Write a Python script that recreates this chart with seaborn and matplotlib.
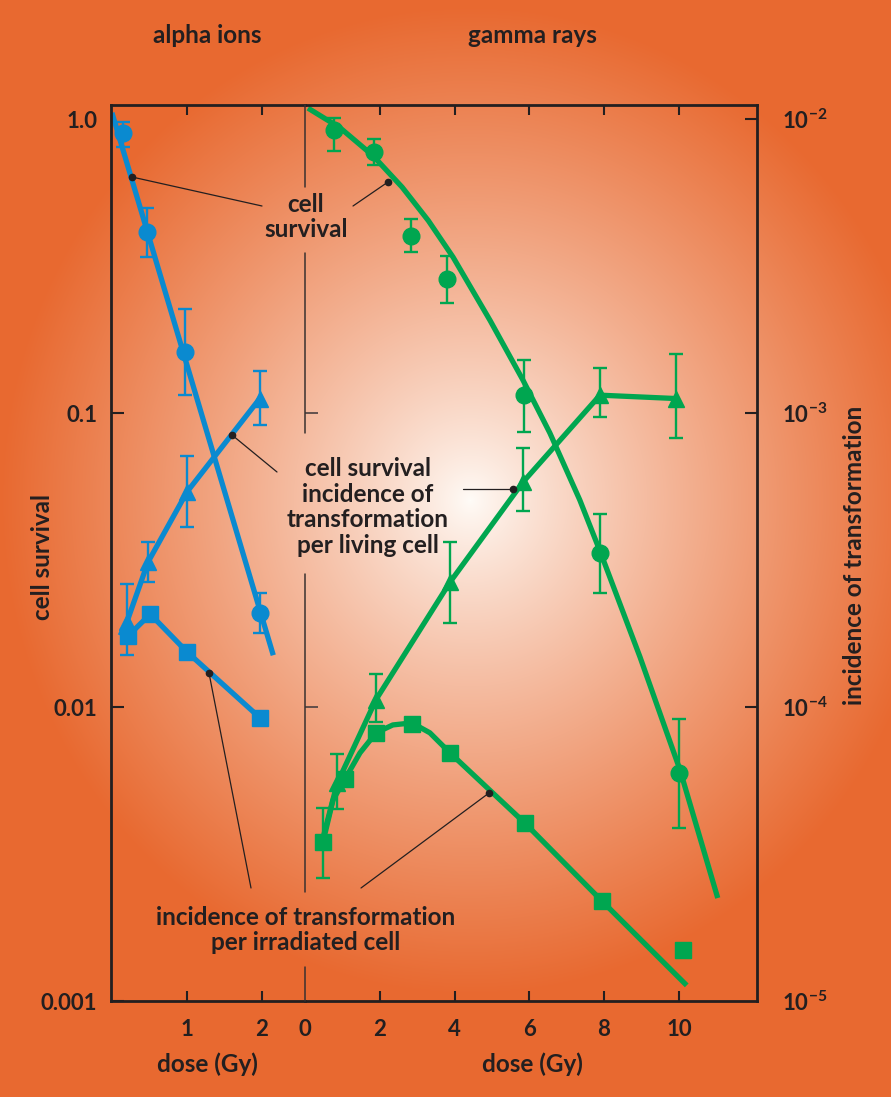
import numpy as np
import matplotlib
matplotlib.use("Agg")
import matplotlib.pyplot as plt
import seaborn as sns
from matplotlib.ticker import NullLocator

# ---- alpha ions ----
alpha_surv_dose = [0.15, 0.47, 0.97, 1.97]
alpha_surv = [0.895, 0.413, 0.161, 0.0209]
alpha_surv_lo = [0.803, 0.340, 0.115, 0.0179]
alpha_surv_hi = [0.977, 0.498, 0.226, 0.0245]
alpha_surv_fit_dose = [0.0, 2.15]
alpha_surv_fit = [1.05, 0.015]

alpha_live_dose = [0.20, 0.48, 1.00, 1.97]
alpha_live = [1.95e-4, 3.11e-4, 5.39e-4, 1.12e-3]
alpha_live_lo = [1.50e-4, 2.66e-4, 4.09e-4, 9.1e-4]
alpha_live_hi = [2.62e-4, 3.64e-4, 7.14e-4, 1.39e-3]
alpha_live_line_dose = [0.11, 0.20, 0.48, 1.00, 1.97]
alpha_live_line = [1.75e-4, 1.95e-4, 3.11e-4, 5.39e-4, 1.12e-3]

alpha_irr_dose = [0.21, 0.51, 1.00, 1.97]
alpha_irr = [1.74e-4, 2.07e-4, 1.54e-4, 9.2e-5]

# ---- gamma rays ----
gamma_surv_dose = [0.78, 1.84, 2.83, 3.80, 5.86, 7.90, 10.0]
gamma_surv = [0.918, 0.773, 0.400, 0.286, 0.115, 0.0334, 0.00597]
gamma_surv_lo = [0.778, 0.698, 0.353, 0.237, 0.0862, 0.0245, 0.00387]
gamma_surv_hi = [1.008, 0.855, 0.457, 0.342, 0.151, 0.0453, 0.0091]
gamma_surv_fit_dose = [0.08, 0.94, 1.82, 2.60, 3.30, 3.96, 4.95, 5.83, 6.55,
                       7.35, 7.91, 8.96, 10.03, 11.04]
gamma_surv_fit = [1.089, 0.933, 0.750, 0.586, 0.451, 0.339, 0.2065, 0.1294, 0.0855,
                  0.0506, 0.0334, 0.0148, 0.00611, 0.00224]

gamma_live_dose = [0.86, 1.90, 3.88, 5.83, 7.89, 9.92]
gamma_live = [5.5e-5, 1.06e-4, 2.66e-4, 5.82e-4, 1.15e-3, 1.12e-3]
gamma_live_lo = [4.5e-5, 8.9e-5, 1.93e-4, 4.65e-4, 9.7e-4, 8.2e-4]
gamma_live_hi = [6.9e-5, 1.29e-4, 3.64e-4, 7.6e-4, 1.42e-3, 1.59e-3]
gamma_live_line_dose = [0.48, 0.86, 1.90, 3.88, 5.83, 7.89, 9.92]
gamma_live_line = [3.58e-5, 5.5e-5, 1.06e-4, 2.66e-4, 5.82e-4, 1.15e-3, 1.12e-3]

gamma_irr_dose = [0.48, 1.07, 1.90, 2.86, 3.88, 5.88, 7.94, 10.1]
gamma_irr = [3.47e-5, 5.69e-5, 8.17e-5, 8.75e-5, 6.98e-5, 4.03e-5, 2.19e-5, 1.49e-5]
gamma_irr_err_dose = [0.48]
gamma_irr_err_val = [3.47e-5]
gamma_irr_err_lo = [2.62e-5]
gamma_irr_err_hi = [4.53e-5]
gamma_irr_fit_dose = [0.48, 0.75, 1.07, 1.47, 1.90, 2.35, 2.86, 3.34, 3.88, 5.88, 7.94, 10.21]
gamma_irr_fit = [3.47e-5, 4.83e-5, 5.69e-5, 6.98e-5, 8.17e-5, 8.69e-5, 8.83e-5,
                 8.17e-5, 6.98e-5, 4.03e-5, 2.19e-5, 1.13e-5]

surv_ticks = [1.0, 0.1, 0.01, 0.001]
surv_labels = ["1.0", "0.1", "0.01", "0.001"]
inc_ticks = [1e-2, 1e-3, 1e-4, 1e-5]
inc_labels = [r"$10^{-2}$", r"$10^{-3}$", r"$10^{-4}$", r"$10^{-5}$"]
alpha_xticks = [1, 2]
gamma_xticks = [0, 2, 4, 6, 8, 10]

BLUE = "#0a8ad0"
GREEN = "#00a650"
INK = "#231f20"

sns.set_theme(style="ticks")
plt.rcParams["font.family"] = ["Lato", "DejaVu Sans"]
plt.rcParams["font.weight"] = "bold"
plt.rcParams["mathtext.fontset"] = "custom"
plt.rcParams["mathtext.rm"] = "Lato:bold"
plt.rcParams["mathtext.default"] = "rm"

W, H = 891, 1097
fig = plt.figure(figsize=(W / 100, H / 100), dpi=100)

# radial background
bg = fig.add_axes([0, 0, 1, 1], zorder=-10)
yy, xx = np.mgrid[0:H, 0:W]
r = np.hypot(xx - 470, (yy - 500) * 0.95)
t = np.clip(r / 470, 0, 1) ** 0.85
edge = np.array([232, 105, 48]) / 255
centre = np.array([255, 252, 248]) / 255
img = centre * (1 - t[..., None]) + edge * t[..., None]
bg.imshow(img, aspect="auto", extent=[0, 1, 0, 1])
bg.axis("off")

L, R, T, B, DIV = 111, 757, 105, 1001, 305
ylim = (0.001, 1.116)
axA = fig.add_axes([L / W, 1 - B / H, (DIV - L) / W, (B - T) / H])
axG = fig.add_axes([DIV / W, 1 - B / H, (R - DIV) / W, (B - T) / H])
axA2 = axA.twinx()
axG2 = axG.twinx()

for ax in (axA, axG, axA2, axG2):
    ax.set_facecolor("none")
    ax.set_yscale("log")
    ax.yaxis.set_minor_locator(NullLocator())
    for s in ax.spines.values():
        s.set_visible(False)
        s.set_linewidth(2)
        s.set_color(INK)
for ax in (axA, axG):
    ax.set_ylim(*ylim)
for ax in (axA2, axG2):
    ax.set_ylim(ylim[0] * 0.01, ylim[1] * 0.01)

axA.set_xlim(-0.013, 2.573)
axG.set_xlim(0, 12.09)

for s in ("left", "top", "bottom"):
    axA.spines[s].set_visible(True)
for s in ("top", "bottom"):
    axG.spines[s].set_visible(True)
axG2.spines["right"].set_visible(True)

tick_kw = dict(direction="in", colors=INK, width=1.5, labelsize=16, labelcolor=INK)
axA.set_xticks(alpha_xticks, [str(v) for v in alpha_xticks])
axA.xaxis.set_minor_locator(NullLocator())
axA.tick_params(axis="x", top=True, length=7, pad=13, **tick_kw)
axA.set_yticks(surv_ticks, surv_labels)
axA.tick_params(axis="y", length=9, pad=10, **tick_kw)
axA.yaxis.get_major_ticks()[0].tick1line.set_visible(False)

axG.set_xticks(gamma_xticks, [str(v) for v in gamma_xticks])
axG.xaxis.set_minor_locator(NullLocator())
axG.tick_params(axis="x", top=True, length=7, pad=13, **tick_kw)
axG.xaxis.get_major_ticks()[0].tick1line.set_visible(False)
axG.xaxis.get_major_ticks()[0].tick2line.set_visible(False)
axG.set_yticks([0.1, 0.01])
axG.tick_params(axis="y", length=9, width=1.2, direction="in", colors="#4a4040",
                labelleft=False)

axA2.set_yticks([])
axA2.tick_params(axis="y", right=False, labelright=False)
axG2.set_yticks(inc_ticks, inc_labels)
axG2.tick_params(axis="y", length=9, pad=18, **tick_kw)
axG2.yaxis.get_major_ticks()[-1].tick2line.set_visible(False)

line_kw = dict(lw=3.8, sort=False, estimator=None, legend=False)
err_kw = dict(elinewidth=1.7, capsize=5, capthick=1.7, zorder=5, linestyle="none")

# alpha ions
sns.lineplot(x=alpha_surv_fit_dose, y=alpha_surv_fit, ax=axA, color=BLUE, **line_kw)
axA.errorbar(alpha_surv_dose, alpha_surv,
             yerr=[np.subtract(alpha_surv, alpha_surv_lo), np.subtract(alpha_surv_hi, alpha_surv)],
             fmt="o", ms=12, color=BLUE, **err_kw)
sns.lineplot(x=alpha_live_line_dose, y=alpha_live_line, ax=axA2, color=BLUE, **line_kw)
axA2.errorbar(alpha_live_dose, alpha_live,
              yerr=[np.subtract(alpha_live, alpha_live_lo), np.subtract(alpha_live_hi, alpha_live)],
              fmt="^", ms=12, color=BLUE, **err_kw)
sns.lineplot(x=alpha_irr_dose, y=alpha_irr, ax=axA2, color=BLUE, **line_kw)
axA2.plot(alpha_irr_dose, alpha_irr, "s", ms=11, color=BLUE, zorder=5)

# gamma rays
sns.lineplot(x=gamma_surv_fit_dose, y=gamma_surv_fit, ax=axG, color=GREEN, **line_kw)
axG.errorbar(gamma_surv_dose, gamma_surv,
             yerr=[np.subtract(gamma_surv, gamma_surv_lo), np.subtract(gamma_surv_hi, gamma_surv)],
             fmt="o", ms=12, color=GREEN, **err_kw)
sns.lineplot(x=gamma_live_line_dose, y=gamma_live_line, ax=axG2, color=GREEN, **line_kw)
axG2.errorbar(gamma_live_dose, gamma_live,
              yerr=[np.subtract(gamma_live, gamma_live_lo), np.subtract(gamma_live_hi, gamma_live)],
              fmt="^", ms=12, color=GREEN, **err_kw)
sns.lineplot(x=gamma_irr_fit_dose, y=gamma_irr_fit, ax=axG2, color=GREEN, **line_kw)
axG2.plot(gamma_irr_dose, gamma_irr, "s", ms=11, color=GREEN, zorder=5)
axG2.errorbar(gamma_irr_err_dose, gamma_irr_err_val,
              yerr=[np.subtract(gamma_irr_err_val, gamma_irr_err_lo),
                    np.subtract(gamma_irr_err_hi, gamma_irr_err_val)],
              fmt="none", color=GREEN, **err_kw)
for ax in (axA, axA2, axG, axG2):
    for ln in ax.get_lines():
        ln.set_solid_capstyle("butt")
        ln.set_solid_joinstyle("round")

# overlay for text, leaders and divider (pixel coordinates)
ov = fig.add_axes([0, 0, 1, 1], zorder=20)
ov.set_xlim(0, W)
ov.set_ylim(H, 0)
ov.axis("off")
ov.patch.set_visible(False)

for y0, y1 in [(T, 187), (253, 433), (574, 892), (967, B)]:
    ov.plot([DIV, DIV], [y0, y1], color="#3a3230", lw=1.1)

leaders = [((132, 177), (262, 206)), ((388, 182), (353, 206)),
           ((232, 435), (277, 472)), ((513, 489), (463, 489)),
           ((209, 673), (251, 888)), ((489, 793), (361, 888))]
for (dx, dy), (ex, ey) in leaders:
    ov.plot([dx, ex], [dy, ey], color=INK, lw=0.9)
    ov.plot(dx, dy, "o", ms=4.5, color=INK)

txt = dict(color=INK, fontsize=17.5, fontweight="bold", ha="center")
ov.text(207, 43, "alpha ions", va="baseline", **txt)
ov.text(532, 43, "gamma rays", va="baseline", **txt)
ov.text(207, 1072, "dose (Gy)", va="baseline", **txt)
ov.text(532, 1072, "dose (Gy)", va="baseline", **txt)
ov.text(306, 217, "cell\nsurvival", va="center", linespacing=1.15, **txt)
ov.text(368, 507, "cell survival\nincidence of\ntransformation\nper living cell",
        va="center", linespacing=1.15, **txt)
ov.text(306, 930, "incidence of transformation\nper irradiated cell",
        va="center", linespacing=1.15, **txt)
ov.text(42, 557, "cell survival", va="center", rotation=90, **txt)
ov.text(855, 555, "incidence of transformation", va="center", rotation=90, **txt)

fig.savefig("out.png", dpi=100)
